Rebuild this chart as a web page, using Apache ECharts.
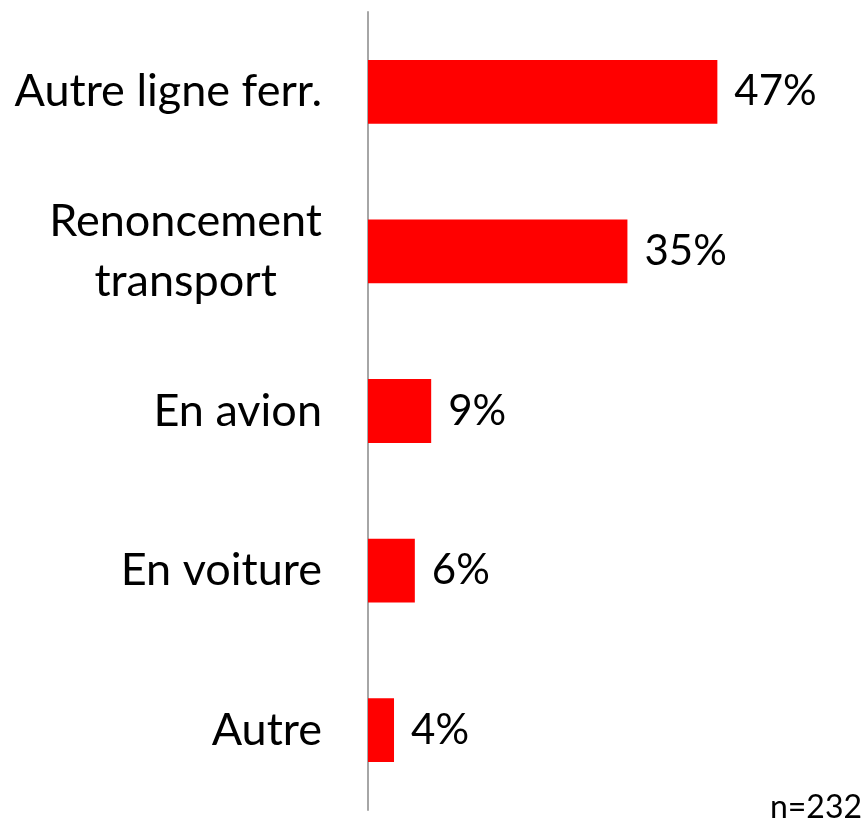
<!DOCTYPE html>
<html>
<head>
<meta charset="utf-8">
<script src="https://cdn.jsdelivr.net/npm/echarts@6/dist/echarts.min.js"></script>
<style>
html,body{margin:0;padding:0;background:#fff;}
#main{width:867px;height:820px;}
</style>
</head>
<body>
<div id="main"></div>
<script>
// Data (top level)
var categories = ['Autre ligne ferr.', 'Renoncement\ntransport', 'En avion', 'En voiture', 'Autre'];
var values = [47.0, 34.9, 8.5, 6.3, 3.5];
var sampleNote = 'n=232';

var FONT = 'Lato';
var chart = echarts.init(document.getElementById('main'), null, {renderer: 'canvas'});
chart.setOption({
  animation: false,
  backgroundColor: '#ffffff',
  grid: {left: 368, top: 12, width: 446, height: 798, containLabel: false},
  xAxis: {
    type: 'value', min: 0, max: 60,
    show: false
  },
  yAxis: {
    type: 'category',
    inverse: true,
    data: categories,
    axisLine: {show: true, lineStyle: {color: '#a6a6a6', width: 2}},
    axisTick: {show: false},
    axisLabel: {
      margin: 46,
      color: '#000',
      align: 'right',
      formatter: function (v) {
        return v.split('\n').map(function (s) { return '{c|' + s + '}'; }).join('\n');
      },
      rich: {
        c: {align: 'center', fontFamily: FONT, fontSize: 45, lineHeight: 60, color: '#000'}
      }
    }
  },
  series: [{
    type: 'bar',
    data: values,
    barCategoryGap: '60%',
    itemStyle: {color: '#ff0000'},
    label: {
      show: true,
      position: 'right',
      distance: 17,
      fontFamily: FONT,
      fontSize: 42,
      color: '#000',
      formatter: function (p) { return Math.round(p.value) + '%'; }
    }
  }],
  graphic: [{
    type: 'text',
    right: 5,
    bottom: -4,
    style: {text: sampleNote, fontFamily: FONT, fontSize: 32, fill: '#000'}
  }]
});
</script>
</body>
</html>
